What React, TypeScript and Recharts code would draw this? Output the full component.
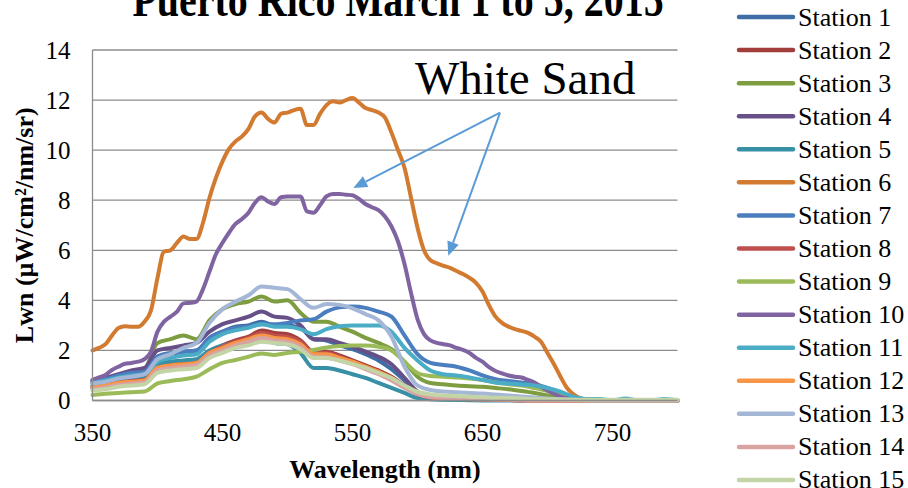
import React from 'react';
import {
  LineChart,
  Line,
  XAxis,
  YAxis,
  CartesianGrid,
  Legend,
  ReferenceLine,
  ReferenceDot,
  Label,
} from 'recharts';

const FONT = '"Liberation Serif", "Times New Roman", serif';

// ---------- data ----------
const wavelengths5 = [
  350, 355, 360, 365, 370, 375, 380, 385, 390, 395, 400, 405, 410, 415, 420, 425, 430, 435, 440, 445,
  450, 455, 460, 465, 470, 475, 480, 485, 490, 495, 500, 505, 510, 515, 520, 525, 530, 535, 540, 545,
  550, 555, 560, 565, 570, 575, 580, 585, 590, 595, 600, 605, 610, 615, 620, 625, 630, 635, 640, 645,
  650, 655, 660, 665, 670, 675, 680, 685, 690, 695, 700, 705, 710, 715, 720, 725, 730, 735, 740, 745,
  750, 755, 760, 765, 770, 775, 780, 785, 790, 795, 800,
];

const wavelengths10 = [
  350, 360, 370, 380, 390, 400, 410, 420, 430, 440, 450, 460, 470, 480, 490, 500, 510, 520, 530, 540,
  550, 560, 570, 580, 590, 600, 610, 620, 630, 640, 650, 660, 670, 680, 690, 700, 710, 720, 730, 740,
  750, 760, 770, 780, 790, 800,
];

const stationNames = [
  'Station 1', 'Station 2', 'Station 3', 'Station 4', 'Station 5', 'Station 6', 'Station 7', 'Station 8',
  'Station 9', 'Station 10', 'Station 11', 'Station 12', 'Station 13', 'Station 14', 'Station 15',
];

const stationColors = [
  '#3F6DA5', '#A13E3B', '#7E9D40', '#674F88', '#3890A6', '#D27B30', '#4A7EBF', '#C0504D',
  '#9BBB59', '#8064A2', '#4BACC6', '#F79646', '#A5B7D6', '#D9A3A2', '#C3D5A6',
];

const station1 = [0.7, 0.8, 0.95, 1.05, 1.1, 1.75, 1.85, 1.95, 2.0, 2.5, 2.75, 2.95, 3.0, 3.15, 3.0, 3.0, 2.9, 2.45, 2.4, 2.2, 2.05, 1.85, 1.6, 1.25, 0.8, 0.35, 0.2, 0.15, 0.12, 0.1, 0.08, 0.06, 0.05, 0.04, 0.03, 0.02, 0.01, 0, 0, 0, 0, 0, 0, 0, 0, 0];
const station2 = [0.55, 0.62, 0.75, 0.8, 0.85, 1.35, 1.45, 1.5, 1.55, 1.95, 2.2, 2.4, 2.55, 2.8, 2.7, 2.65, 2.4, 1.95, 1.95, 1.8, 1.6, 1.4, 1.2, 0.95, 0.6, 0.3, 0.15, 0.1, 0.08, 0.06, 0.05, 0.04, 0.03, 0.02, 0.01, 0, 0, 0, 0, 0, 0, 0, 0, 0, 0, 0];
const station3 = [0.75, 0.85, 1.0, 1.1, 1.25, 2.3, 2.45, 2.6, 2.45, 3.2, 3.65, 3.85, 3.95, 4.15, 3.95, 4.0, 3.5, 3.15, 3.15, 2.95, 2.75, 2.5, 2.3, 2.05, 1.55, 0.95, 0.7, 0.65, 0.6, 0.57, 0.55, 0.5, 0.45, 0.38, 0.3, 0.2, 0.12, 0.05, 0.02, 0, 0, 0, 0, 0, 0, 0];
const station4 = [0.8, 0.9, 1.05, 1.2, 1.3, 2.0, 2.1, 2.2, 2.3, 2.75, 3.05, 3.2, 3.35, 3.55, 3.35, 3.3, 3.0, 2.45, 2.45, 2.3, 2.15, 1.95, 1.75, 1.45, 0.9, 0.35, 0.15, 0.1, 0.08, 0.06, 0.05, 0.04, 0.03, 0.02, 0.01, 0, 0, 0, 0, 0, 0, 0, 0, 0, 0, 0];
const station5 = [0.6, 0.68, 0.8, 0.85, 0.9, 1.45, 1.55, 1.6, 1.65, 2.0, 2.2, 2.3, 2.35, 2.45, 2.3, 2.25, 1.9, 1.3, 1.3, 1.2, 1.05, 0.9, 0.7, 0.5, 0.3, 0.1, 0.05, 0.03, 0.02, 0.01, 0, 0, 0, 0, 0, 0, 0, 0, 0, 0, 0, 0, 0, 0, 0, 0];
const station6 = [
  2.0, 2.1, 2.25, 2.6, 2.9, 2.97, 2.95, 2.95, 3.15, 3.6, 4.9, 5.95, 6.0, 6.3, 6.55, 6.45, 6.45, 7.1, 8.1, 8.9,
  9.55, 10.05, 10.35, 10.55, 10.85, 11.35, 11.5, 11.25, 11.1, 11.45, 11.5, 11.6, 11.65, 11.0, 11.0, 11.45, 11.8, 11.95, 11.9, 12.0,
  12.08, 11.9, 11.68, 11.6, 11.5, 11.3, 10.7, 10.0, 9.3, 8.1, 6.9, 6.0, 5.6, 5.48, 5.38, 5.3, 5.17, 5.05, 4.9, 4.7,
  4.35, 3.8, 3.35, 3.1, 2.95, 2.85, 2.78, 2.7, 2.55, 2.35, 1.9, 1.45, 0.95, 0.5, 0.25, 0.1, 0.05, 0, 0, 0,
  0, 0, 0, 0, 0, 0, 0, 0, 0, 0, 0,
];
const station7 = [0.75, 0.85, 1.0, 1.1, 1.15, 1.75, 1.9, 1.95, 2.0, 2.5, 2.75, 2.9, 2.95, 3.05, 3.05, 3.1, 3.2, 3.25, 3.55, 3.72, 3.75, 3.7, 3.55, 3.35, 2.6, 1.85, 1.5, 1.42, 1.35, 1.2, 1.0, 0.85, 0.78, 0.72, 0.65, 0.5, 0.3, 0.12, 0.04, 0, 0, 0, 0, 0, 0, 0];
const station8 = [0.5, 0.6, 0.72, 0.78, 0.82, 1.3, 1.4, 1.45, 1.5, 1.9, 2.15, 2.35, 2.5, 2.7, 2.6, 2.55, 2.35, 1.9, 1.9, 1.75, 1.55, 1.35, 1.15, 0.9, 0.55, 0.25, 0.12, 0.08, 0.06, 0.05, 0.04, 0.03, 0.02, 0, 0, 0, 0, 0, 0, 0, 0, 0, 0, 0, 0, 0];
const station9 = [0.22, 0.27, 0.3, 0.33, 0.36, 0.68, 0.78, 0.85, 0.95, 1.25, 1.5, 1.62, 1.75, 1.88, 1.82, 1.9, 1.95, 2.02, 2.12, 2.18, 2.2, 2.2, 2.15, 2.0, 1.55, 1.1, 0.98, 0.95, 0.92, 0.88, 0.82, 0.72, 0.65, 0.6, 0.5, 0.38, 0.22, 0.1, 0.03, 0, 0, 0, 0, 0, 0, 0];
const station10 = [
  0.82, 0.92, 1.02, 1.22, 1.35, 1.47, 1.5, 1.55, 1.65, 1.95, 2.75, 3.15, 3.35, 3.55, 3.88, 3.9, 3.95, 4.45, 5.15, 5.85,
  6.3, 6.7, 7.05, 7.25, 7.5, 7.9, 8.12, 7.95, 7.85, 8.12, 8.15, 8.15, 8.15, 7.55, 7.5, 7.8, 8.15, 8.25, 8.25, 8.22,
  8.2, 8.05, 7.85, 7.72, 7.6, 7.35, 6.95, 6.35, 5.45, 4.3, 3.25, 2.65, 2.4, 2.3, 2.25, 2.2, 2.1, 2.02, 1.9, 1.7,
  1.55, 1.33, 1.18, 1.08, 1.0, 0.95, 0.92, 0.82, 0.72, 0.55, 0.4, 0.27, 0.15, 0.1, 0.05, 0, 0, 0, 0, 0,
  0, 0, 0, 0, 0, 0, 0, 0, 0, 0, 0,
];
const station11 = [0.7, 0.8, 0.92, 1.0, 1.05, 1.55, 1.7, 1.8, 1.85, 2.35, 2.65, 2.8, 2.9, 3.05, 2.95, 2.95, 2.85, 2.65, 2.85, 2.97, 3.0, 3.0, 3.0, 2.75, 2.1, 1.6, 1.2, 1.05, 1.0, 0.92, 0.82, 0.72, 0.68, 0.64, 0.6, 0.5, 0.35, 0.15, 0.05, 0.06, 0, 0.08, 0, 0, 0.06, 0];
const station12 = [0.52, 0.6, 0.7, 0.75, 0.8, 1.3, 1.4, 1.45, 1.5, 1.9, 2.1, 2.3, 2.45, 2.6, 2.5, 2.45, 2.25, 1.85, 1.85, 1.7, 1.55, 1.35, 1.15, 0.9, 0.55, 0.28, 0.14, 0.1, 0.08, 0.06, 0.05, 0.04, 0.03, 0.02, 0, 0, 0, 0, 0, 0, 0, 0, 0, 0, 0, 0];
const station13 = [0.68, 0.75, 0.88, 0.95, 1.05, 1.65, 1.85, 2.1, 2.3, 3.1, 3.65, 3.95, 4.2, 4.55, 4.5, 4.45, 4.05, 3.7, 3.85, 3.82, 3.68, 3.45, 3.2, 2.55, 1.35, 0.6, 0.42, 0.36, 0.33, 0.3, 0.28, 0.24, 0.2, 0.16, 0.12, 0.08, 0.05, 0.03, 0, 0, 0, 0, 0, 0, 0, 0];
const station14 = [0.45, 0.52, 0.62, 0.68, 0.72, 1.2, 1.3, 1.35, 1.42, 1.8, 2.0, 2.2, 2.35, 2.5, 2.4, 2.35, 2.15, 1.75, 1.72, 1.6, 1.45, 1.25, 1.05, 0.8, 0.5, 0.25, 0.13, 0.1, 0.08, 0.06, 0.05, 0.04, 0.03, 0.02, 0, 0, 0, 0, 0, 0, 0, 0, 0, 0, 0, 0];
const station15 = [0.4, 0.45, 0.55, 0.6, 0.65, 1.1, 1.2, 1.25, 1.3, 1.7, 1.9, 2.1, 2.2, 2.35, 2.3, 2.25, 2.05, 1.7, 1.7, 1.6, 1.45, 1.3, 1.1, 0.9, 0.6, 0.35, 0.25, 0.2, 0.18, 0.15, 0.13, 0.11, 0.1, 0.08, 0.06, 0.05, 0.04, 0.03, 0.03, 0.03, 0.03, 0.03, 0.03, 0.03, 0.03, 0.03];

const stationValues = [
  station1, station2, station3, station4, station5, station6, station7, station8,
  station9, station10, station11, station12, station13, station14, station15,
];
const stationGrid = [
  wavelengths10, wavelengths10, wavelengths10, wavelengths10, wavelengths10, wavelengths5, wavelengths10, wavelengths10,
  wavelengths10, wavelengths5, wavelengths10, wavelengths10, wavelengths10, wavelengths10, wavelengths10,
];

const xTicks = [350, 450, 550, 650, 750];
const yTicks = [0, 2, 4, 6, 8, 10, 12, 14];

const chartTitle = 'Puerto Rico March 1 to 5, 2015';
const xTitle = 'Wavelength (nm)';
const yTitle = 'Lwn (\u00B5W/cm\u00B2/nm/sr)';
const annotationText = 'White Sand';
// annotation anchors in data units (wavelength, Lwn)
const annotationTextAt = { x: 598, y: 12.25 };
const arrowStart = { x: 663.5, y: 11.5 };
const arrowEnds = [
  { x: 550.6, y: 8.49 },
  { x: 623.7, y: 5.78 },
];

const seriesData = stationValues.map((vals, s) =>
  stationGrid[s].map((wl, i) => ({ wl, v: vals[i] }))
);

// ---------- drawing helpers ----------
const ARROW_COLOR = '#5B9BD5';

const ArrowShape = (p: any) => {
  const { x1, y1, x2, y2 } = p;
  const ang = Math.atan2(y2 - y1, x2 - x1);
  const L = 14;
  const W = 6;
  const bx = x2 - L * Math.cos(ang);
  const by = y2 - L * Math.sin(ang);
  const pts = `${x2},${y2} ${bx + W * Math.sin(ang)},${by - W * Math.cos(ang)} ${bx - W * Math.sin(ang)},${by + W * Math.cos(ang)}`;
  return (
    <g>
      <line x1={x1} y1={y1} x2={bx} y2={by} stroke={ARROW_COLOR} strokeWidth={2} />
      <polygon points={pts} fill={ARROW_COLOR} />
    </g>
  );
};

const AnnotationText = (p: any) => (
  <text x={p.cx} y={p.cy} textAnchor="start" fontFamily={FONT} fontSize={47} fill="#000">
    {annotationText}
  </text>
);

const YTitle = (props: any) => {
  const vb = props.viewBox || { x: 0, y: 50, width: 92, height: 350 };
  const cx = 33;
  const cy = vb.y + vb.height / 2;
  return (
    <text
      x={cx}
      y={cy}
      transform={`rotate(-90 ${cx} ${cy})`}
      textAnchor="middle"
      fontFamily={FONT}
      fontWeight="bold"
      fontSize={26}
      fill="#000"
    >
      {yTitle}
    </text>
  );
};

const XTitle = (props: any) => {
  const vb = props.viewBox || { x: 92, y: 400, width: 585, height: 88 };
  return (
    <text
      x={vb.x + vb.width / 2}
      y={vb.y + 77.5}
      textAnchor="middle"
      fontFamily={FONT}
      fontWeight="bold"
      fontSize={26}
      fill="#000"
    >
      {xTitle}
    </text>
  );
};

const LEGEND_TOP = 17;
const LEGEND_STEP = 33.07;

const LegendContent = (props: any) => {
  const payload = [...(props.payload || [])].sort(
    (a: any, b: any) => stationNames.indexOf(a.value) - stationNames.indexOf(b.value)
  );
  return (
    <svg width={178} height={488} style={{ display: 'block' }}>
      {payload.map((entry: any, i: number) => {
        const y = LEGEND_TOP + i * LEGEND_STEP;
        return (
          <g key={entry.value}>
            <line x1={9} x2={63} y1={y} y2={y} stroke={entry.color} strokeWidth={4.5} strokeLinecap="round" />
            <text x={68} y={y} dominantBaseline="central" fontFamily={FONT} fontSize={26} fill="#000">
              {entry.value}
            </text>
          </g>
        );
      })}
    </svg>
  );
};

export default function App() {
  return (
    <div style={{ position: 'absolute', left: 0, top: 0, width: 908, height: 488, background: '#fff', fontFamily: FONT }}>
      <LineChart width={908} height={488} margin={{ top: 50, right: 52.5, bottom: 0, left: 0 }}>
        <CartesianGrid vertical={false} stroke="#8c8c8c" strokeWidth={1.3} />
        <XAxis
          type="number"
          dataKey="wl"
          domain={[350, 800]}
          ticks={xTicks}
          interval={0}
          height={87.5}
          tickLine={false}
          tickSize={0}
          tickMargin={23}
          axisLine={{ stroke: '#8c8c8c', strokeWidth: 1.3 }}
          tick={{ fontFamily: FONT, fontSize: 25, fill: '#000' }}
          allowDuplicatedCategory={false}
        >
          <Label content={XTitle} />
        </XAxis>
        <YAxis
          type="number"
          domain={[0, 14]}
          ticks={yTicks}
          interval={0}
          width={92.5}
          tickLine={false}
          tickSize={0}
          tickMargin={22}
          axisLine={{ stroke: '#8c8c8c', strokeWidth: 1.3 }}
          tick={{ fontFamily: FONT, fontSize: 25, fill: '#000' }}
        >
          <Label content={YTitle} />
        </YAxis>
        <Legend
          layout="vertical"
          align="right"
          verticalAlign="top"
          content={LegendContent}
          wrapperStyle={{ left: 730, top: 0, width: 178, height: 488 }}
        />
        {stationNames.map((name, s) => (
          <Line
            key={name}
            name={name}
            data={seriesData[s]}
            dataKey="v"
            type="monotone"
            stroke={stationColors[s]}
            strokeWidth={4}
            strokeLinejoin="round"
            strokeLinecap="round"
            dot={false}
            activeDot={false}
            isAnimationActive={false}
          />
        ))}
        {arrowEnds.map((end, i) => (
          <ReferenceLine
            key={i}
            segment={[arrowStart, end]}
            stroke={ARROW_COLOR}
            strokeWidth={2}
            shape={ArrowShape}
            ifOverflow="visible"
          />
        ))}
        <ReferenceDot
          x={annotationTextAt.x}
          y={annotationTextAt.y}
          r={0}
          ifOverflow="visible"
          shape={AnnotationText}
        />
      </LineChart>
      <svg
        width={908}
        height={40}
        style={{ position: 'absolute', left: 0, top: 0, pointerEvents: 'none' }}
      >
        <text
          x={0}
          y={0}
          transform="translate(398 16) scale(1 1.2)"
          textAnchor="middle"
          fontFamily={FONT}
          fontWeight="bold"
          fontSize={40}
          fill="#000"
        >
          {chartTitle}
        </text>
      </svg>
    </div>
  );
}
